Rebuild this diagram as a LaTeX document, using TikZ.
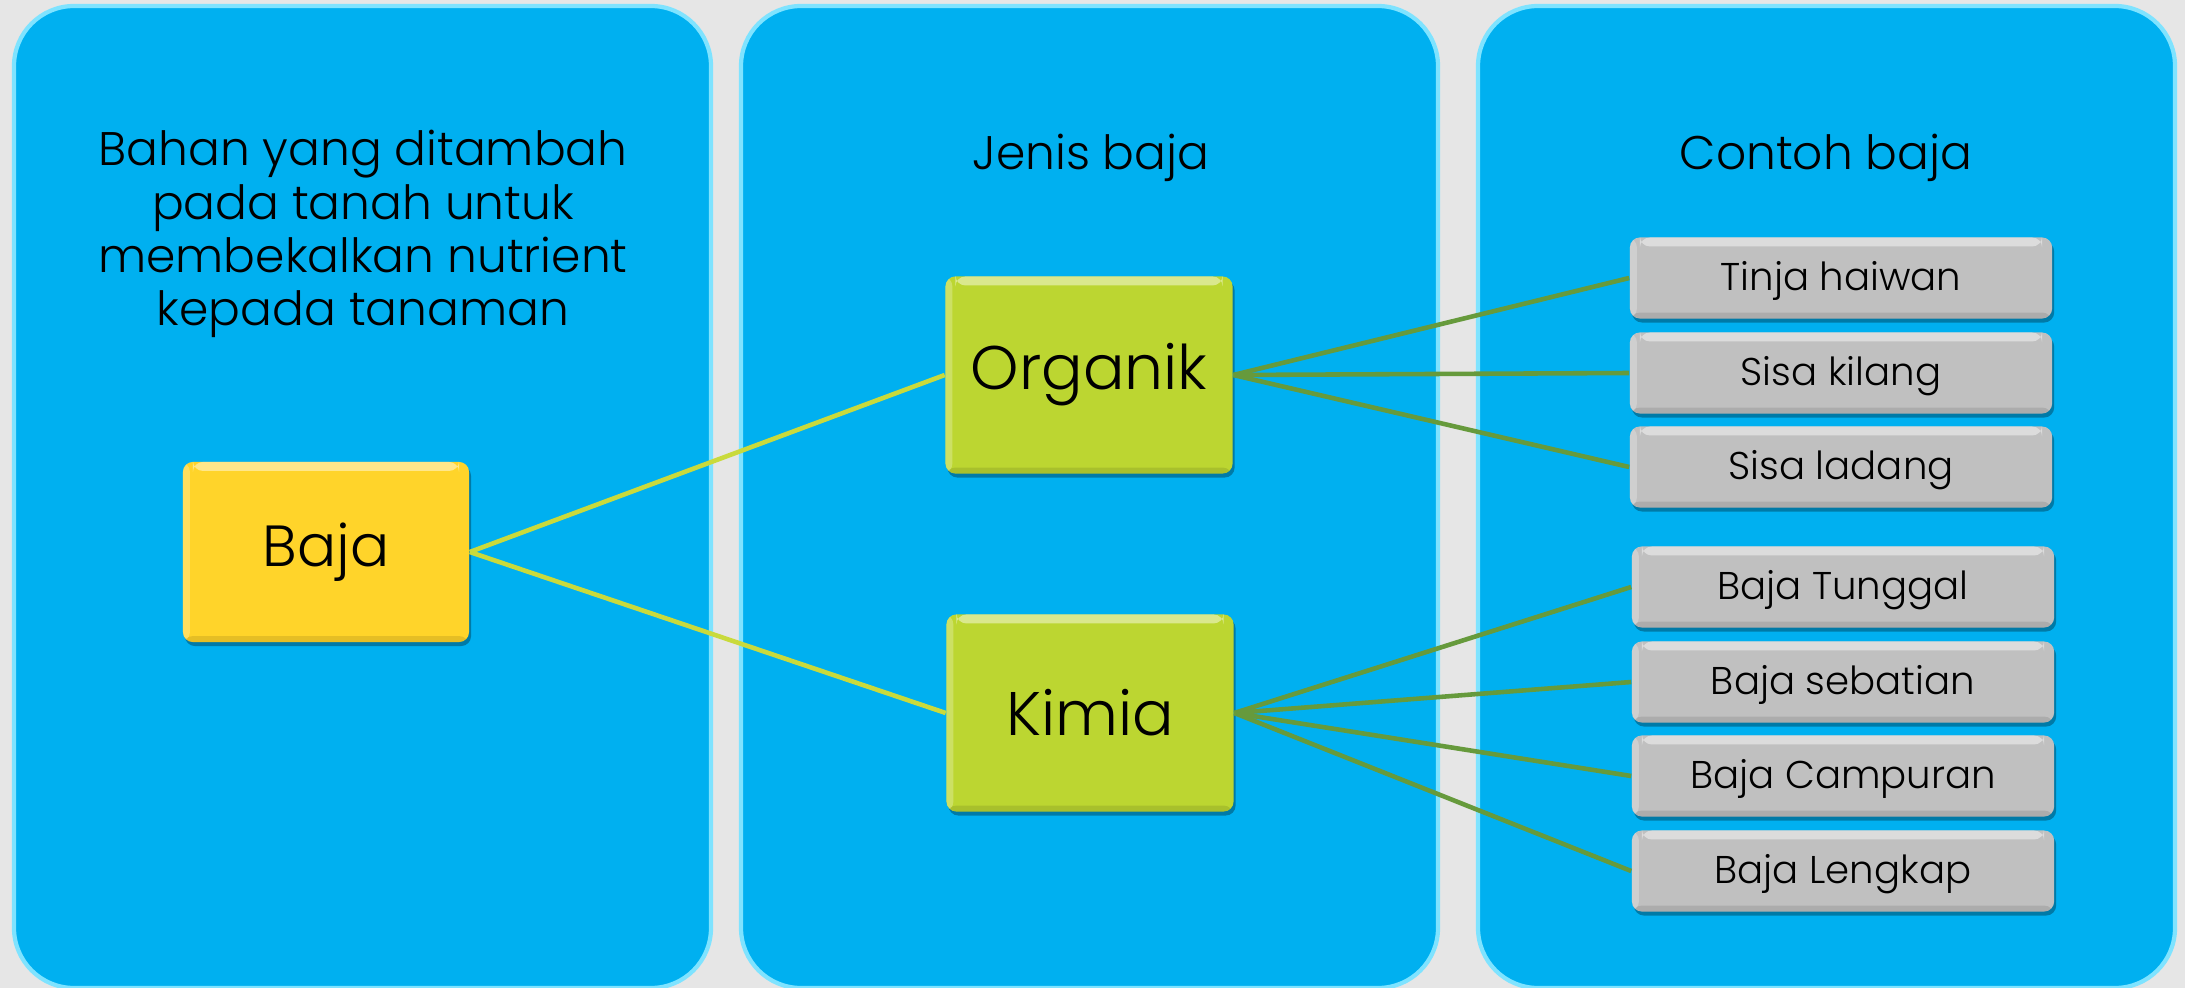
\documentclass[tikz,border=0pt]{standalone}
\usepackage{fontspec}
\setmainfont{Poppins}[UprightFont=* Light]
\usetikzlibrary{shadows}
\definecolor{bgray}{HTML}{E6E6E6}
\definecolor{panelblue}{HTML}{00B0F0}
\definecolor{paneledge}{HTML}{7FE3FF}
\definecolor{bajayellow}{HTML}{FFD42A}
\definecolor{typegreen}{HTML}{BCD631}
\definecolor{boxgray}{HTML}{C0C0C0}
\definecolor{linkyellow}{HTML}{C9DA3C}
\definecolor{linkgreen}{HTML}{669A3C}
\tikzset{
  panel/.style={fill=panelblue, draw=paneledge, line width=1.2pt, rounded corners=0.6cm},
  bevel/.style={rounded corners=0.1cm, inner sep=0pt,
    drop shadow={shadow xshift=0.02cm, shadow yshift=-0.04cm, opacity=0.3, fill=black},
    path picture={
      \fill[white,opacity=0.45] ([xshift=0.1cm]path picture bounding box.north west) rectangle ([xshift=-0.1cm,yshift=-0.09cm]path picture bounding box.north east);
      \fill[white,opacity=0.25] (path picture bounding box.north west) rectangle ([xshift=0.07cm]path picture bounding box.south west);
      \fill[black,opacity=0.10] ([yshift=0.06cm]path picture bounding box.south west) rectangle (path picture bounding box.south east);
    }},
  mainbox/.style={bevel, fill=bajayellow, minimum width=2.86cm, minimum height=1.80cm, font=\fontsize{16.5pt}{18pt}\selectfont},
  typebox/.style={bevel, fill=typegreen, minimum width=2.87cm, minimum height=1.97cm, font=\fontsize{17.5pt}{19pt}\selectfont},
  examplebox/.style={bevel, fill=boxgray, minimum width=4.22cm, minimum height=0.81cm, text depth=0.1em, font=\fontsize{11pt}{13pt}\selectfont},
  heading/.style={font=\fontsize{13.4pt}{15.1pt}\selectfont, align=center, text=black},
  link1/.style={linkyellow, line width=1.3pt},
  link2/.style={linkgreen, line width=1.3pt}
}
\begin{document}
\begin{tikzpicture}[x=0.01cm,y=-0.01cm]
\fill[bgray] (0,0) rectangle (2185,988);
\useasboundingbox (0,0) rectangle (2185,988);
% panels
\begin{scope}
\clip (0,0) rectangle (2185,988);
\path[panel] (14,6) rectangle (711,988);
\path[panel] (741,6) rectangle (1438,988);
\path[panel] (1478,6) rectangle (2175,988);
\end{scope}
% headings
\node[heading] (desc) at (363,234) {Bahan yang ditambah\\pada tanah untuk\\membekalkan nutrient\\kepada tanaman};
\node[heading] (h2) at (1091,158) {Jenis baja};
\node[heading] (h3) at (1826,158) {Contoh baja};
% nodes
\node[mainbox] (baja) at (326,552) {Baja};
\node[typebox] (org) at (1089,375) {Organik};
\node[typebox] (kim) at (1090,713) {Kimia};
\node[examplebox] (e1) at (1841,278) {Tinja haiwan};
\node[examplebox] (e2) at (1841,373) {Sisa kilang};
\node[examplebox] (e3) at (1841,467) {Sisa ladang};
\node[examplebox] (e4) at (1843,587) {Baja Tunggal};
\node[examplebox] (e5) at (1843,682) {Baja sebatian};
\node[examplebox] (e6) at (1843,776) {Baja Campuran};
\node[examplebox] (e7) at (1843,871) {Baja Lengkap};
% connectors
\draw[link1] (baja.east) -- (org.west);
\draw[link1] (baja.east) -- (kim.west);
\foreach \e in {e1,e2,e3} \draw[link2] (org.east) -- (\e.west);
\foreach \e in {e4,e5,e6,e7} \draw[link2] (kim.east) -- (\e.west);
\end{tikzpicture}
\end{document}
